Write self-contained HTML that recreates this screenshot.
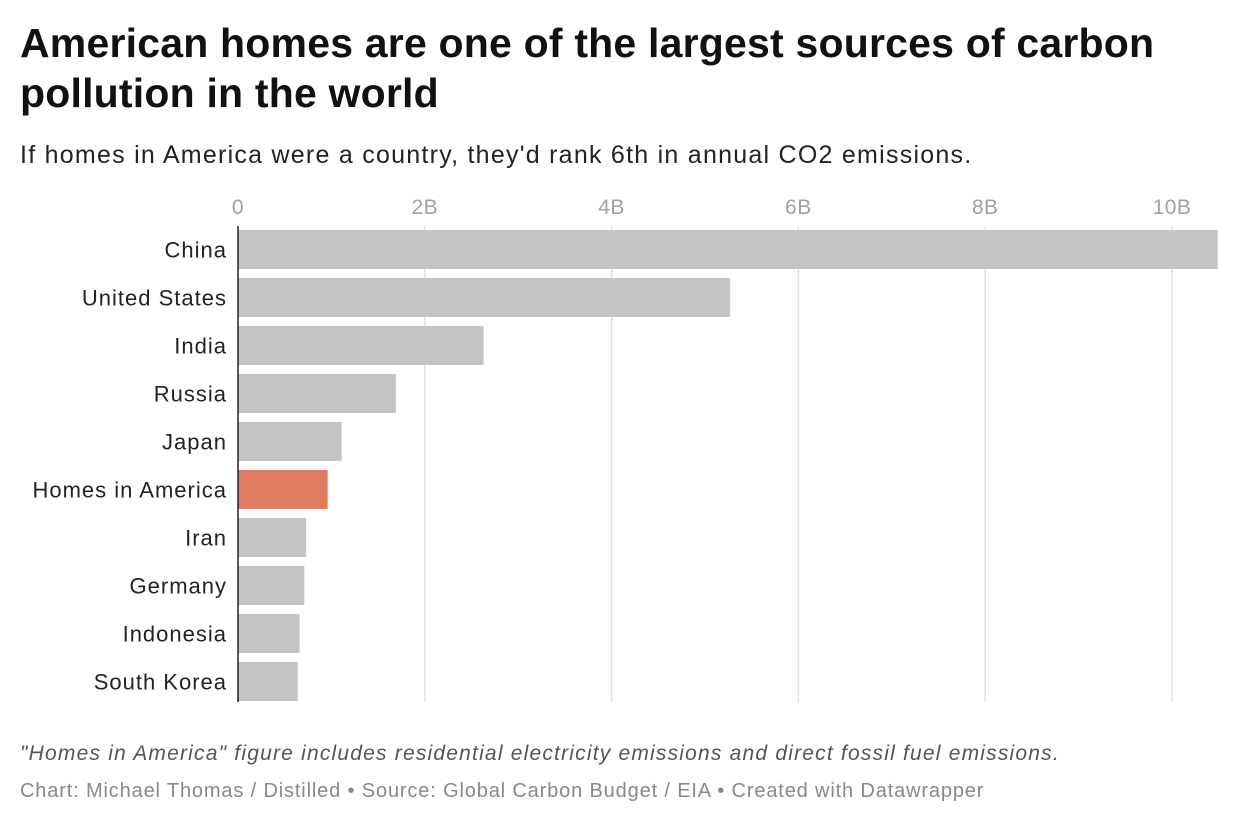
<!DOCTYPE html>
<html><head><meta charset="utf-8"><style>
body{margin:0;background:#fff;font-family:"Liberation Sans",Arial,sans-serif;}
#wrap{position:relative;width:1240px;height:826px;overflow:hidden;}
h1{position:absolute;left:20px;top:18px;margin:0;font-size:41px;line-height:50px;font-weight:bold;color:#111;width:1220px;letter-spacing:0.2px;}
.sub{position:absolute;left:20px;top:141px;font-size:25px;color:#222;letter-spacing:1.25px;}
.note{position:absolute;left:20px;top:742px;font-size:21px;font-style:italic;color:#555;letter-spacing:1.2px;}
.credit{position:absolute;left:20px;top:780px;font-size:20px;color:#888;letter-spacing:0.85px;}
svg{position:absolute;left:0;top:0;}
</style></head><body>
<div id="wrap">
<h1>American homes are one of the largest sources of carbon pollution in the world</h1>
<div class="sub">If homes in America were a country, they'd rank 6th in annual CO2 emissions.</div>
<svg id="chart" width="1240" height="826"></svg>
<div class="note">"Homes in America" figure includes residential electricity emissions and direct fossil fuel emissions.</div>
<div class="credit">Chart: Michael Thomas / Distilled • Source: Global Carbon Budget / EIA • Created with Datawrapper</div>
</div>
<script>
const categories=["China","United States","India","Russia","Japan","Homes in America","Iran","Germany","Indonesia","South Korea"];
const values=[10.49,5.27,2.63,1.69,1.11,0.96,0.73,0.71,0.66,0.64];
const tickValues=[0,2,4,6,8,10];
const tickLabels=["0","2B","4B","6B","8B","10B"];
const highlight="Homes in America";
const svg=document.getElementById('chart');
const NS="http://www.w3.org/2000/svg";
const x0=238,pxPer=93.4,y0=230,step=48,bh=39;
const xs=v=>x0+v*pxPer;
function mk(t,a){const e=document.createElementNS(NS,t);for(const k in a)e.setAttribute(k,a[k]);svg.appendChild(e);return e;}
tickValues.forEach((v,i)=>{
 if(v>0){const l=mk('line',{x1:xs(v),x2:xs(v),y1:226,y2:702,stroke:'#e0e0e0','stroke-width':1.5});
 
 }
 const t=mk('text',{x:xs(v),y:214,'text-anchor':'middle','font-size':21,fill:'#a0a0a0','font-family':'Liberation Sans, sans-serif','letter-spacing':0.5});
 t.textContent=tickLabels[i];
 
 
});
categories.forEach((c,i)=>{
 const y=y0+i*step;
 const r=mk('rect',{x:x0,y:y,width:xs(values[i])-x0,height:bh,fill:c===highlight?'#e07c62':'#c4c4c4'});
 
 
 const t=mk('text',{x:227,y:y+bh/2+8,'text-anchor':'end','font-size':22,fill:'#222','font-family':'Liberation Sans, sans-serif','letter-spacing':1.0});
 t.textContent=c;
 
 
});
const ax=mk('line',{x1:x0,x2:x0,y1:226,y2:702,stroke:'#222','stroke-width':1.5});


</script>
</body></html>
